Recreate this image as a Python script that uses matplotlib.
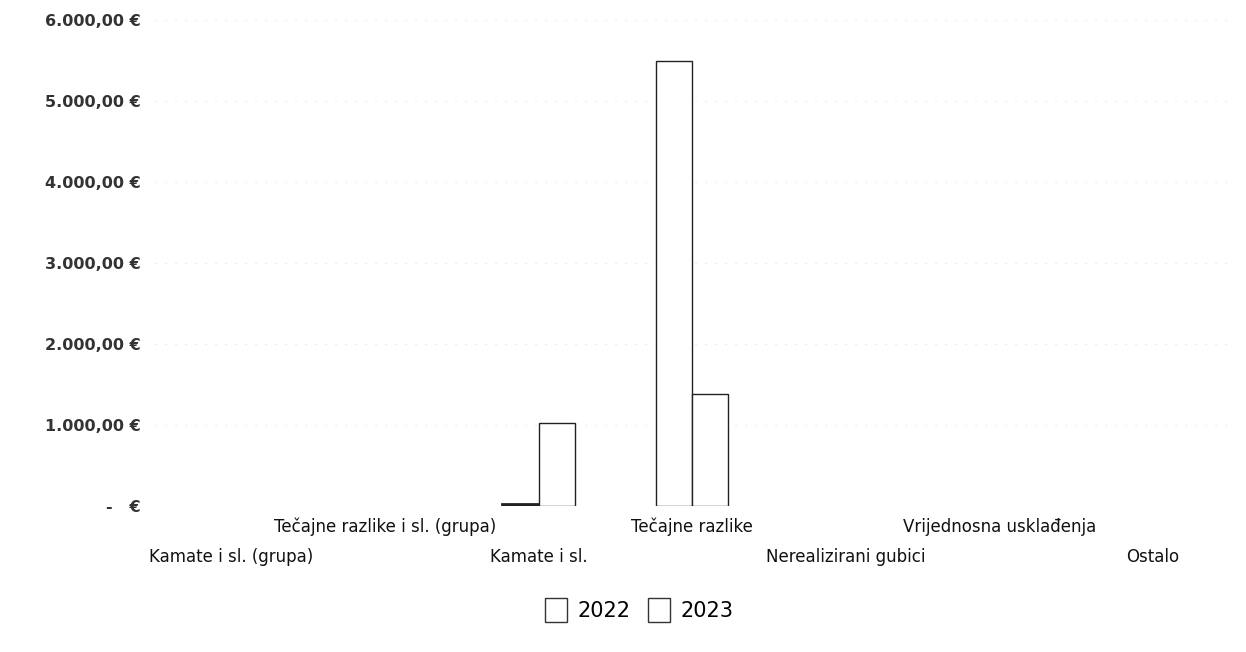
import matplotlib.pyplot as plt
import numpy as np
from matplotlib.patches import Patch
from matplotlib.ticker import FuncFormatter

# Data
categories = ['Kamate i sl. (grupa)', 'Tečajne razlike i sl. (grupa)', 'Kamate i sl.',
              'Tečajne razlike', 'Nerealizirani gubici', 'Vrijednosna usklađenja', 'Ostalo']
values_2022 = [0, 0, 25, 5500, 0, 0, 0]
values_2023 = [0, 0, 1030, 1380, 0, 0, 0]
series_names = ['2022', '2023']
y_ticks = [0, 1000, 2000, 3000, 4000, 5000, 6000]


def euro_fmt(v, pos):
    if v == 0:
        return '-   €'
    s = f'{v:,.2f}'.replace(',', 'X').replace('.', ',').replace('X', '.')
    return s + ' €'


fig = plt.figure(figsize=(12.46, 6.52), dpi=100)
ax = fig.add_axes([0.124, 0.224, 0.863, 0.745])

x = np.arange(len(categories))
w = 0.235
for i in range(len(categories)):
    for off, vals in ((-w / 2, values_2022), (w / 2, values_2023)):
        v = vals[i]
        if v <= 0:
            continue
        # very small bars print as a thick dark line
        fc = '#111111' if v < 100 else 'white'
        lw = 2.0 if v < 100 else 1.0
        ax.bar(x[i] + off, v, w, facecolor=fc, edgecolor='#222222', linewidth=lw)

ax.set_xlim(-0.5, len(categories) - 0.5)
ax.set_ylim(0, 6000)
ax.set_yticks(y_ticks)
ax.yaxis.set_major_formatter(FuncFormatter(euro_fmt))
ax.tick_params(axis='y', length=0, pad=10, labelsize=11.5)
for lab in ax.get_yticklabels():
    lab.set_fontweight('bold')
    lab.set_color('#333333')
ax.set_xticks([])

# faint dotted gridlines like the print
ax.yaxis.grid(True, linestyle=(0, (1, 8)), color='#dddddd', linewidth=0.8)
ax.set_axisbelow(True)
for sp in ax.spines.values():
    sp.set_visible(False)

# category labels in two staggered rows
trans = ax.get_xaxis_transform()
for i, c in enumerate(categories):
    yy = -0.043 if i % 2 == 1 else -0.105
    ax.text(x[i], yy, c, transform=trans, ha='center', va='center', fontsize=12,
            color='#111111')

handles = [Patch(facecolor='white', edgecolor='#333333', label=n) for n in series_names]
fig.legend(handles=handles, loc='center', bbox_to_anchor=(0.513, 0.065), ncol=2,
           frameon=False, fontsize=15, handlelength=1.1, handleheight=1.4,
           handletextpad=0.5, columnspacing=0.8)

fig.savefig('out.png', dpi=100)
